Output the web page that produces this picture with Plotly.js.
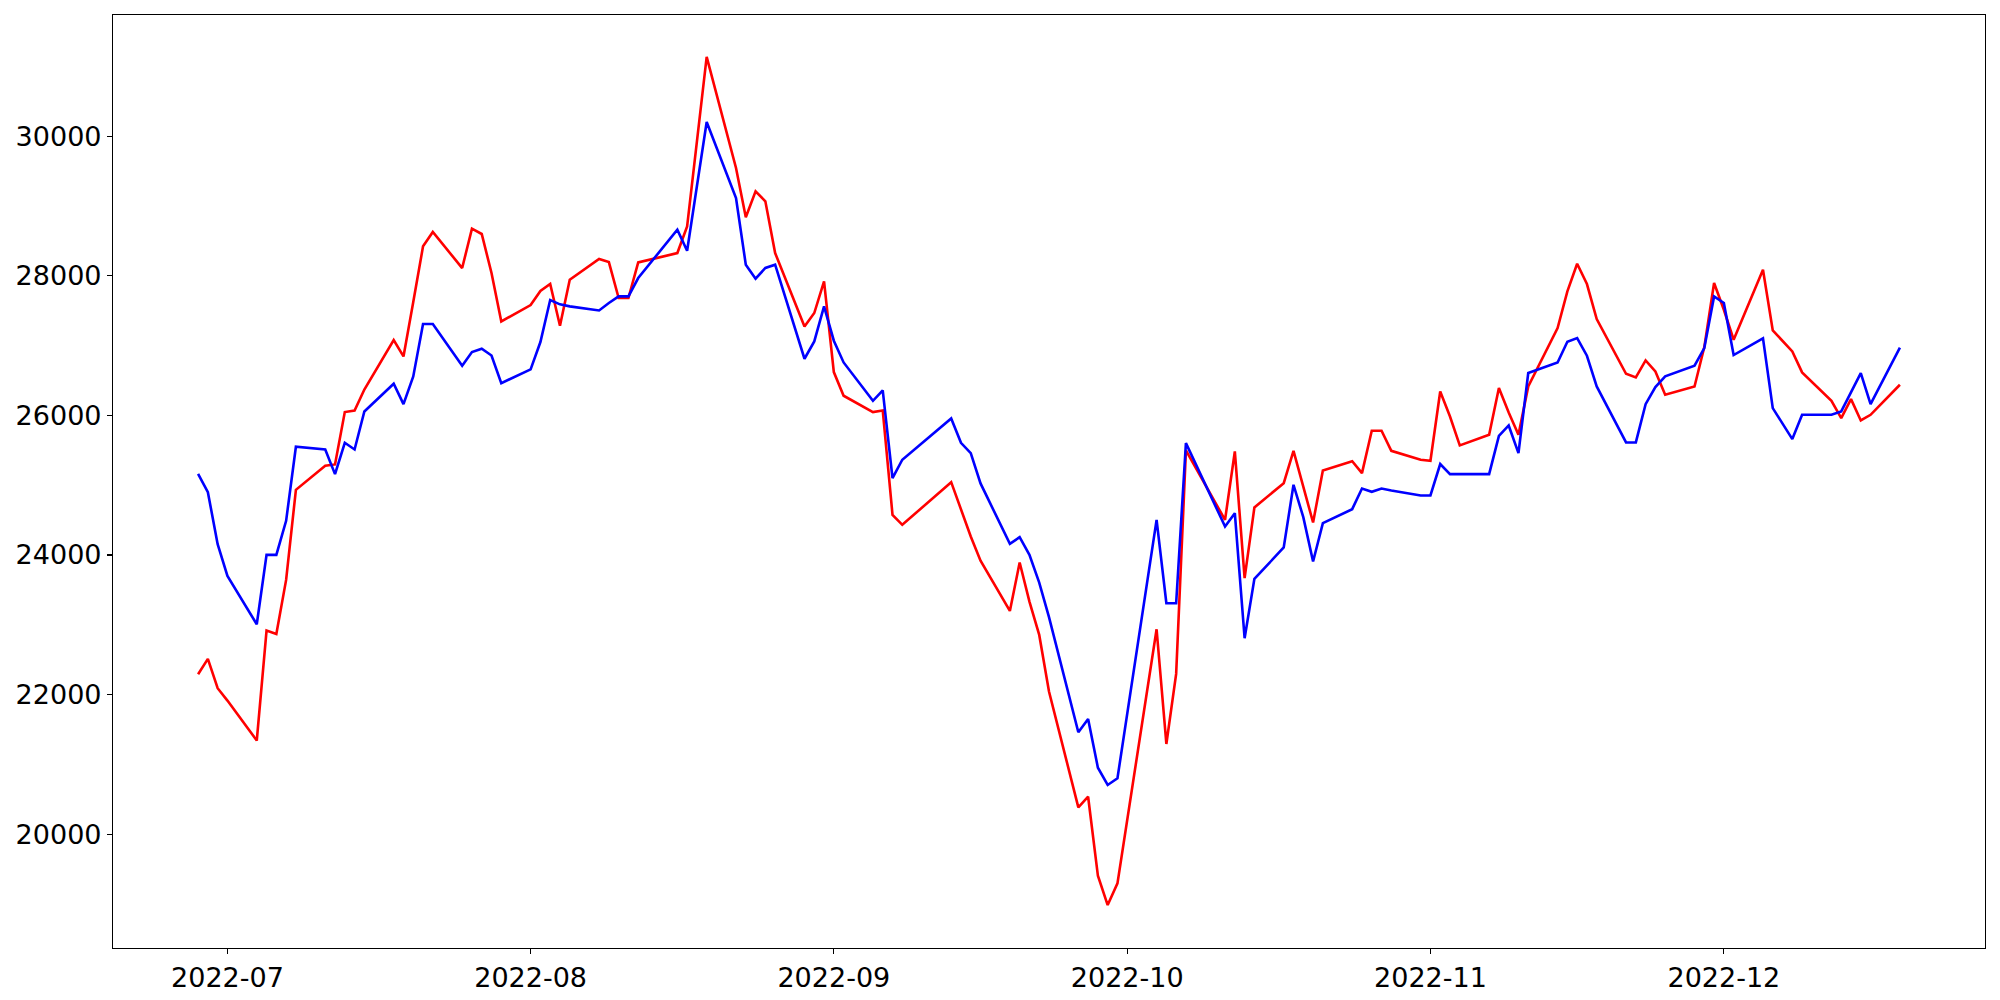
<!DOCTYPE html>
<html>
<head>
<meta charset="utf-8">
<script src="https://cdn.plot.ly/plotly-3.0.1.min.js"></script>
<style>
  html, body { margin: 0; padding: 0; background: #ffffff; }
  #chart { width: 2000px; height: 1000px; }
</style>
</head>
<body>
<div id="chart"></div>
<script>
// Trading dates (weekdays, Korean market holidays absent)
const dates = [
  "2022-06-28","2022-06-29","2022-06-30",
  "2022-07-01","2022-07-04","2022-07-05","2022-07-06","2022-07-07","2022-07-08",
  "2022-07-11","2022-07-12","2022-07-13","2022-07-14","2022-07-15",
  "2022-07-18","2022-07-19","2022-07-20","2022-07-21","2022-07-22",
  "2022-07-25","2022-07-26","2022-07-27","2022-07-28","2022-07-29",
  "2022-08-01","2022-08-02","2022-08-03","2022-08-04","2022-08-05",
  "2022-08-08","2022-08-09","2022-08-10","2022-08-11","2022-08-12",
  "2022-08-16","2022-08-17","2022-08-18","2022-08-19",
  "2022-08-22","2022-08-23","2022-08-24","2022-08-25","2022-08-26",
  "2022-08-29","2022-08-30","2022-08-31","2022-09-01","2022-09-02",
  "2022-09-05","2022-09-06","2022-09-07","2022-09-08",
  "2022-09-13","2022-09-14","2022-09-15","2022-09-16",
  "2022-09-19","2022-09-20","2022-09-21","2022-09-22","2022-09-23",
  "2022-09-26","2022-09-27","2022-09-28","2022-09-29","2022-09-30",
  "2022-10-04","2022-10-05","2022-10-06","2022-10-07",
  "2022-10-11","2022-10-12","2022-10-13","2022-10-14",
  "2022-10-17","2022-10-18","2022-10-19","2022-10-20","2022-10-21",
  "2022-10-24","2022-10-25","2022-10-26","2022-10-27","2022-10-28",
  "2022-10-31","2022-11-01","2022-11-02","2022-11-03","2022-11-04",
  "2022-11-07","2022-11-08","2022-11-09","2022-11-10","2022-11-11",
  "2022-11-14","2022-11-15","2022-11-16","2022-11-17","2022-11-18",
  "2022-11-21","2022-11-22","2022-11-23","2022-11-24","2022-11-25",
  "2022-11-28","2022-11-29","2022-11-30","2022-12-01","2022-12-02",
  "2022-12-05","2022-12-06","2022-12-07","2022-12-08","2022-12-09",
  "2022-12-12","2022-12-13","2022-12-14","2022-12-15","2022-12-16",
  "2022-12-19"
];

// Red series
const redValues = [
  22292,22511,22091,
  21914,21341,22917,22869,23643,24933,
  25277,25297,26047,26070,26370,
  27079,26844,27623,28421,28627,
  28110,28674,28598,28039,27346,
  27580,27781,27881,27284,27942,
  28239,28196,27681,27681,28191,
  28325,28707,29921,31135,
  29544,28837,29209,29066,28325,
  27274,27466,27919,26620,26281,
  26047,26070,24575,24432,
  25043,24647,24265,23918,
  23199,23892,23333,22855,22043,
  20385,20537,19406,18985,19296,
  22936,21293,22296,25497,
  24503,25483,23668,24680,
  25029,25492,24981,24465,25210,
  25344,25172,25779,25779,25492,
  25363,25349,26342,25984,25569,
  25722,26391,26042,25722,26414,
  27250,27776,28172,27881,27380,
  26596,26543,26787,26629,26295,
  26414,26978,27896,27513,27083,
  28086,27217,27073,26916,26615,
  26209,25961,26233,25927,26008,
  26438
];

// Blue series
const blueValues = [
  25163,24900,24155,
  23701,23008,24002,24002,24489,25550,
  25511,25158,25607,25511,26056,
  26453,26161,26558,27308,27308,
  26711,26907,26954,26858,26462,
  26658,27050,27652,27590,27561,
  27503,27609,27704,27704,27967,
  28660,28359,29281,30203,
  29114,28158,27958,28111,28158,
  26811,27059,27561,27069,26758,
  26209,26357,25101,25364,
  25956,25607,25459,25025,
  24159,24255,24002,23605,23110,
  21460,21651,20953,20705,20801,
  24503,23309,23309,25602,
  24408,24599,22808,23658,
  24107,25005,24542,23906,24456,
  24656,24952,24905,24952,24924,
  24852,24852,25302,25158,25158,
  25158,25707,25855,25459,26606,
  26758,27055,27108,26854,26414,
  25612,25612,26161,26405,26558,
  26711,26964,27704,27609,26864,
  27102,26104,25879,25660,26008,
  26008,26056,26328,26606,26161,
  26969
];

// Tick positions and labels
const xTickVals = ["2022-07-01","2022-08-01","2022-09-01","2022-10-01","2022-11-01","2022-12-01"];
const xTickText = ["2022-07","2022-08","2022-09","2022-10","2022-11","2022-12"];
const yTickVals = [20000, 22000, 24000, 26000, 28000, 30000];
const yTickText = ["20000","22000","24000","26000","28000","30000"];

const FONT = "DejaVu Sans, Liberation Sans, sans-serif";

const traces = [
  {
    x: dates, y: redValues, type: "scatter", mode: "lines",
    line: { color: "#ff0000", width: 2.6 }, name: "red", hoverinfo: "x+y"
  },
  {
    x: dates, y: blueValues, type: "scatter", mode: "lines",
    line: { color: "#0000ff", width: 2.6 }, name: "blue", hoverinfo: "x+y"
  }
];

const axisCommon = {
  showgrid: false,
  zeroline: false,
  showline: true,
  mirror: true,
  linecolor: "#000000",
  linewidth: 1.1,
  ticks: "outside",
  ticklen: 5,
  tickwidth: 1.1,
  tickcolor: "#000000",
  tickfont: { family: FONT, size: 27, color: "#000000" }
};

const layout = {
  width: 2000,
  height: 1000,
  margin: { l: 113, r: 15, t: 15, b: 52, pad: 0 },
  paper_bgcolor: "#ffffff",
  plot_bgcolor: "#ffffff",
  showlegend: false,
  font: { family: FONT, color: "#000000" },
  xaxis: Object.assign({}, axisCommon, {
    type: "date",
    range: ["2022-06-19 07:12", "2022-12-27 16:48"],
    tickmode: "array",
    tickvals: xTickVals,
    ticktext: xTickText
  }),
  yaxis: Object.assign({}, axisCommon, {
    range: [18370, 31735],
    tickmode: "array",
    tickvals: yTickVals,
    ticktext: yTickText
  })
};

Plotly.newPlot("chart", traces, layout, { displayModeBar: false, staticPlot: true });
</script>
</body>
</html>
